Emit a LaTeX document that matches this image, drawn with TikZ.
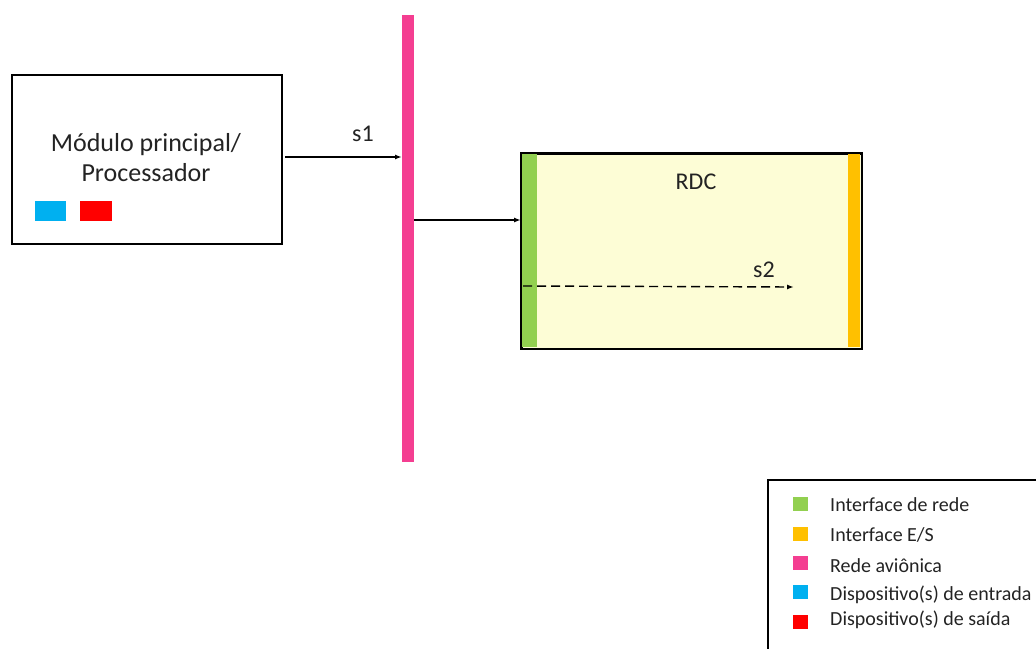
\documentclass[tikz,border=0pt]{standalone}
\usepackage{fontspec}
\setmainfont{Carlito}
\usetikzlibrary{arrows.meta}
\definecolor{pinkbar}{RGB}{244,62,145}
\definecolor{greenif}{RGB}{146,208,80}
\definecolor{orangeif}{RGB}{255,192,0}
\definecolor{rdcfill}{RGB}{253,253,214}
\definecolor{bluedev}{RGB}{0,176,240}
\definecolor{reddev}{RGB}{255,0,0}
\definecolor{txt}{RGB}{35,35,35}
\begin{document}
\begin{tikzpicture}[x=1pt,y=-1pt,
  mainfont/.style={font=\fontsize{24}{29}\selectfont, text=txt},
  modfont/.style={font=\fontsize{26}{30}\selectfont, text=txt},
  legfont/.style={font=\fontsize{20}{24}\selectfont, text=txt, anchor=west, inner sep=0pt},
  sig/.style={line width=1.4pt, -{Latex[length=7pt,width=5pt]}},
  legsq/.style={minimum width=15pt, minimum height=14pt, inner sep=0pt, draw=none}]
\useasboundingbox (0,0) rectangle (1036,648);
\begin{scope}
\clip (0,0) rectangle (1036,648);
% main module
\node[draw, line width=1.5pt, minimum width=270pt, minimum height=169pt, anchor=north west, inner sep=0pt] (mod) at (11,74) {};
\node[modfont, align=center] (modtxt) at (146,158) {Módulo principal/\\Processador};
\node[fill=bluedev, minimum width=31pt, minimum height=20pt, inner sep=0pt, anchor=north west] (inp) at (35,201) {};
\node[fill=reddev, minimum width=32pt, minimum height=20pt, inner sep=0pt, anchor=north west] (outp) at (80,201) {};
% network bar
\node[fill=pinkbar, minimum width=12pt, minimum height=447pt, inner sep=0pt, anchor=north west] (bus) at (402,15) {};
% RDC
\node[draw, fill=rdcfill, line width=1.5pt, minimum width=340pt, minimum height=195pt, anchor=north west, inner sep=0pt] (rdc) at (521,153) {};
\node[fill=greenif, minimum width=15pt, minimum height=193pt, inner sep=0pt, anchor=north west] (netif) at (522,154) {};
\node[fill=orangeif, minimum width=12pt, minimum height=193pt, inner sep=0pt, anchor=north east] (ioif) at (860,154) {};
\draw[line width=1.5pt] (rdc.north west) rectangle (rdc.south east);
\node[mainfont] (rdclbl) at (696,182) {RDC};
% connectors
\coordinate (s1a) at (285,157);
\coordinate (s1b) at (402,157);
\draw[sig] (s1a) -- (s1b);
\node[mainfont] (s1lbl) at (363,134) {s1};
\coordinate (b2a) at (414,220);
\coordinate (b2b) at (521,220);
\draw[sig] (b2a) -- (b2b);
\coordinate (s2a) at (523,286);
\coordinate (s2b) at (794,287);
\draw[sig, dash pattern=on 9pt off 5pt] (s2a) -- (s2b);
\node[mainfont] (s2lbl) at (764,270) {s2};
% legend
\draw[line width=1.5pt] (768,480) rectangle (1045,660);
\node[legsq, fill=greenif, anchor=north west] (l1) at (793,497) {};
\node[legsq, fill=orangeif, anchor=north west] (l2) at (793,527) {};
\node[legsq, fill=pinkbar, anchor=north west] (l3) at (793,556) {};
\node[legsq, fill=bluedev, anchor=north west] (l4) at (793,585) {};
\node[legsq, fill=reddev, anchor=north west] (l5) at (793,615) {};
\node[legfont] (t1) at (830,505) {Interface de rede};
\node[legfont] (t2) at (830,535) {Interface E/S};
\node[legfont] (t3) at (830,566) {Rede aviônica};
\node[legfont] (t4) at (830,595) {Dispositivo(s) de entrada};
\node[legfont] (t5) at (830,620) {Dispositivo(s) de saída};
\end{scope}
\end{tikzpicture}
\end{document}
